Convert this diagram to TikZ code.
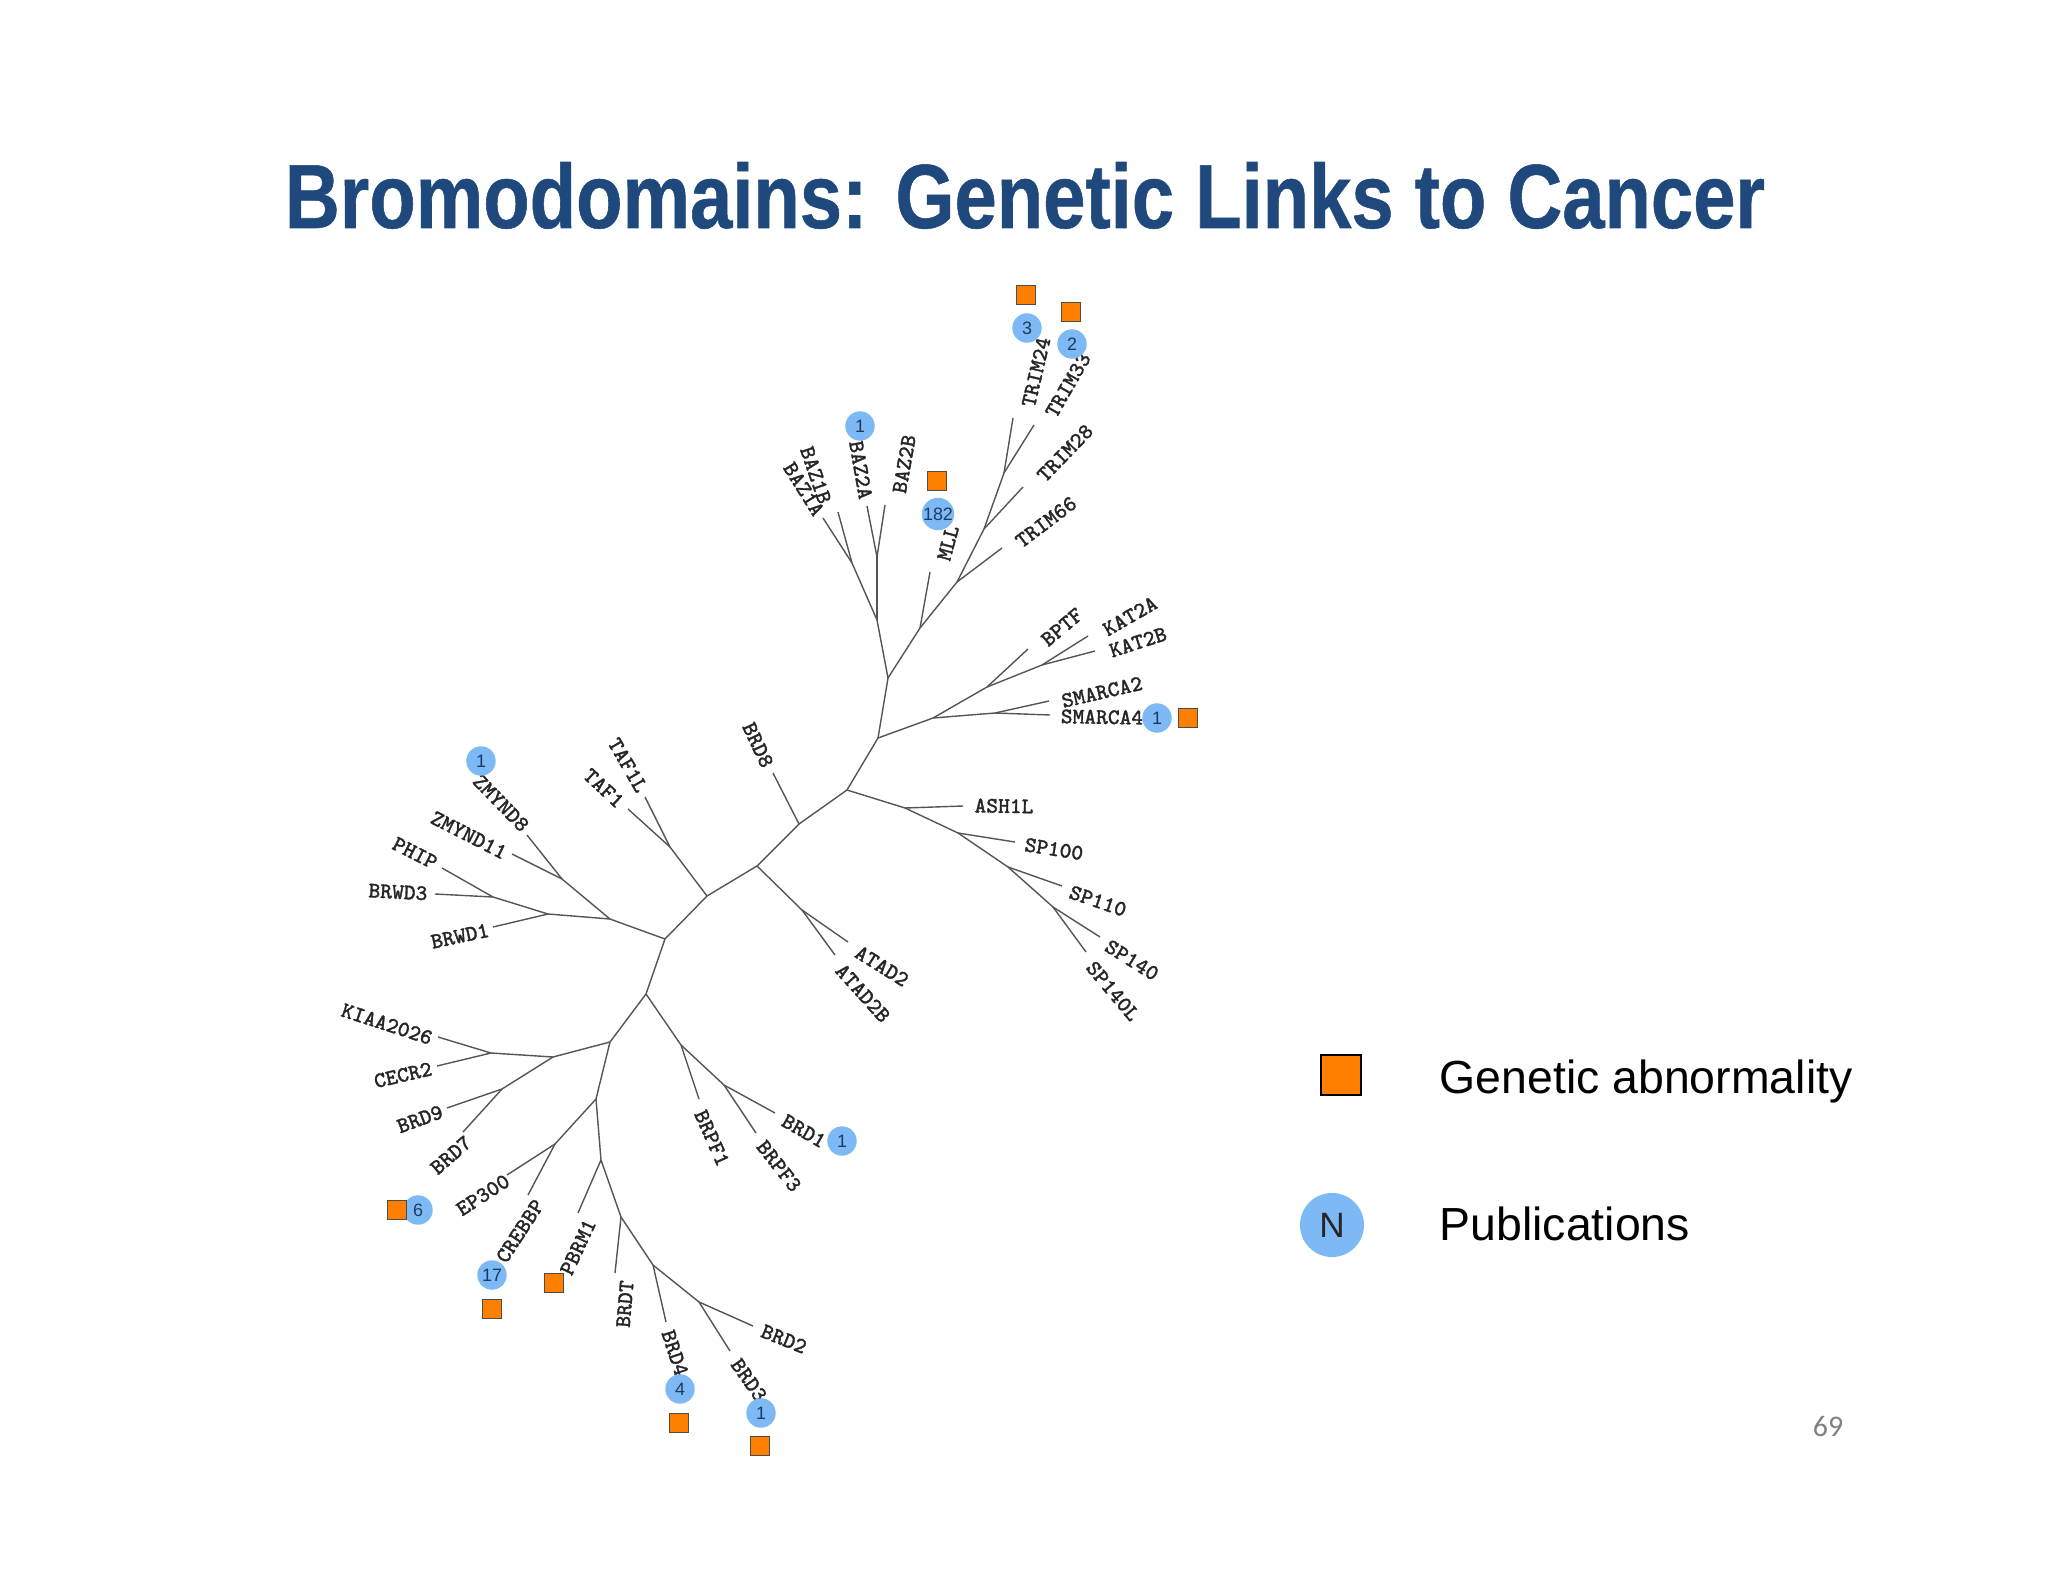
\documentclass[tikz,border=0pt]{standalone}
\usepackage{fontspec}
\setmainfont{Liberation Sans}
\newfontfamily\titlefont[BoldFeatures={FakeStretch=0.834,FakeBold=0.6}]{Liberation Sans}
\newfontfamily\pagefont{Carlito}
\newfontfamily\genefont[FakeBold=1.4]{Latin Modern Mono}
\usepackage{tikz}
\usetikzlibrary{positioning}

\definecolor{titleblue}{HTML}{1F497D}
\definecolor{abnorange}{HTML}{FF8000}
\definecolor{pubblue}{HTML}{7DB9F5}
\definecolor{pubtext}{HTML}{1F3A5F}
\definecolor{branchgrey}{HTML}{555555}

\tikzset{
    branch/.style={draw=branchgrey,line width=0.4pt},
    genelabel/.style={inner sep=0pt,font=\genefont\fontsize{6.3}{7}\selectfont,text=black!85},
    abn/.style={rectangle,draw=black!70,fill=abnorange,line width=0.35pt,inner sep=0pt,minimum size=0.185cm},
    pub/.style={circle,fill=pubblue,inner sep=0pt,minimum size=0.294cm,text=pubtext,font=\fontsize{5.1}{6}\selectfont},
    legendtext/.style={anchor=base west,inner sep=0pt,font=\fontsize{13.2}{15}\selectfont}
}

\begin{document}
\begin{tikzpicture}[x=0.01cm,y=-0.01cm]
\useasboundingbox (0,0) rectangle (2048,1582);

\node[anchor=base,inner sep=0pt,text=titleblue,font=\titlefont\bfseries\fontsize{25.9}{30}\selectfont] (title) at (1025,228) {Bromodomains: Genetic Links to Cancer};

% inner points of the tree
\foreach \name/\x/\y in {centre/665/939, up/707/896, upmid/757/866, upright/799/824, hub/847/790,
    hubtop/878/738, top/888/678, baz/877/620, bazl/852/563, bazr/877/557,
    mll/920/628, trimd/957/582, trimc/984/529, trimb/1004/473,
    smfan/933/718, bptf/987/687, kat/1042/665, sma/995/713,
    ash/905/808, spa/958/833, spb/1008/867, spc/1053/907,
    atad/802/910, taf/670/847,
    left/610/919, zmy/562/879, brwd/548/914, phip/493/897,
    down/646/994, brpf/681/1045, brd1j/724/1085,
    lowleft/610/1042, cecr/553/1057, kiaa/491/1053, brd9j/502/1089,
    lowmid/596/1099, ep/555/1144, lowtrunk/601/1160,
    brdtj/621/1217, brd4j/653/1265, brd2j/699/1302} {
    \coordinate (\name) at (\x,\y);
}

\foreach \from/\to in {centre/up, up/upmid, upmid/upright, upright/hub, hub/hubtop, hubtop/top,
    top/baz, baz/bazl, baz/bazr, top/mll, mll/trimd, trimd/trimc, trimc/trimb,
    hubtop/smfan, smfan/bptf, bptf/kat, smfan/sma,
    hub/ash, ash/spa, spa/spb, spb/spc, upmid/atad, up/taf,
    centre/left, left/zmy, left/brwd, brwd/phip,
    centre/down, down/brpf, brpf/brd1j,
    down/lowleft, lowleft/cecr, cecr/kiaa, cecr/brd9j,
    lowleft/lowmid, lowmid/ep, lowmid/lowtrunk,
    lowtrunk/brdtj, brdtj/brd4j, brd4j/brd2j} {
    \draw[branch] (\from) -- (\to);
}

% leaves: name, tip, label centre, rotation, parent
\foreach \gene/\tx/\ty/\lx/\ly/\rot/\parent in {
    BAZ1A/823/518/804/489/-58/bazl, BAZ1B/838/512/816/475/-71/bazl,
    BAZ2A/867/506/861/470/-80/bazr, BAZ2B/885/505/904/464/80/bazr,
    MLL/930/572/948/543/75/mll, TRIM66/1002/548/1046/522/37/trimd,
    TRIM28/1023/487/1065/453/46/trimc, TRIM24/1013/418/1036/372/77/trimb,
    TRIM33/1034/425/1068/385/60/trimb, BPTF/1028/649/1062/627/40/bptf,
    KAT2A/1088/636/1130/616/30/kat, KAT2B/1095/651/1138/642/18/kat,
    SMARCA2/1049/701/1102/692/13/sma, SMARCA4/1050/715/1102/717/-1/sma,
    ASH1L/963/806/1004/806/-1/ash, SP100/1015/842/1054/849/-9/spa,
    SP110/1062/886/1098/901/-19/spb, SP140/1100/937/1132/960/-32/spc,
    SP140L/1086/952/1113/991/-50/spc, ATAD2/848/942/882/966/-32/atad,
    ATAD2B/835/955/863/993/-48/atad, BRD8/773/773/758/745/-65/upright,
    TAF1L/645/797/628/765/-60/taf, TAF1/628/809/604/788/-43/taf,
    ZMYND8/527/835/501/803/-46/zmy, ZMYND11/512/854/469/835/-27/zmy,
    PHIP/442/868/415/853/-27/phip, BRWD3/435/894/398/892/-3/phip,
    BRWD1/493/927/460/936/12/brwd, KIAA2026/438/1037/387/1024/-18/kiaa,
    CECR2/437/1066/403/1075/13/kiaa, BRD9/447/1108/420/1119/20/brd9j,
    BRD7/463/1132/451/1155/41/brd9j, EP300/507/1175/483/1195/33/ep,
    CREBBP/528/1195/520/1231/57/ep, PBRM1/578/1213/578/1247/65/lowtrunk,
    BRDT/615/1273/625/1304/85/brdtj, BRD4/666/1322/675/1353/-72/brd4j,
    BRD3/730/1351/749/1380/-55/brd2j, BRD2/753/1326/784/1339/-22/brd2j,
    BRPF1/699/1099/712/1138/-66/brpf, BRPF3/756/1133/779/1166/-52/brd1j,
    BRD1/775/1113/804/1131/-30/brd1j} {
    \coordinate (tip\gene) at (\tx,\ty);
    \draw[branch] (\parent) -- (tip\gene);
    \node[genelabel,rotate=\rot] (\gene) at (\lx,\ly) {\gene};
}

% publications
\foreach \name/\x/\y/\n in {TRIM24/1027/328/3, TRIM33/1072/344/2, BAZ2A/860/426/1, MLL/938/514/182,
    SMARCA4/1157/718/1, ZMYND8/481/761/1, BRD1/842/1141/1, BRD7/418/1210/6,
    CREBBP/492/1275/17, BRD4/680/1389/4, BRD3/761/1413/1} {
    \node[pub] (pub\name) at (\x,\y) {\n};
}

% genetic abnormality
\foreach \name/\x/\y in {TRIM24/1026/295, TRIM33/1071/312, MLL/937/481, SMARCA4/1188/718,
    BRD7/397/1210, CREBBP/492/1309, PBRM1/554/1283, BRD4/679/1423, BRD3/760/1446} {
    \node[abn] (abn\name) at (\x,\y) {};
}

% legend
\node[abn,draw=black,line width=0.55pt,minimum size=0.405cm] (legabn) at (1341,1075) {};
\node[pub,minimum size=0.64cm,text=black!85,font=\fontsize{10}{12}\selectfont] (legpub) at (1332,1225) {N};
\node[legendtext] (legabntext) at (1439,1093) {Genetic abnormality};
\node[legendtext] (legpubtext) at (1439,1240) {Publications};

\node[text=black!50,inner sep=0pt,font=\pagefont\fontsize{8.5}{10}\selectfont] (pagenum) at (1828,1427) {69};
\end{tikzpicture}
\end{document}
